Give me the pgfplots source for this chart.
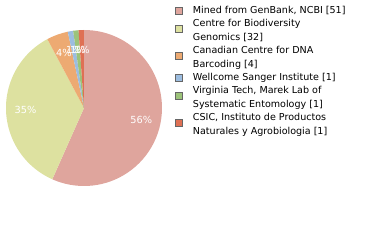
\documentclass[border=0pt]{standalone}
\usepackage{pgfplots}
\pgfplotsset{compat=1.18}
\usepackage{fontspec}
\setmainfont{DejaVu Sans}
\definecolor{cA}{RGB}{223,165,157}
\definecolor{cB}{RGB}{221,225,160}
\definecolor{cC}{RGB}{237,170,114}
\definecolor{cD}{RGB}{156,189,224}
\definecolor{cE}{RGB}{156,195,122}
\definecolor{cF}{RGB}{223,112,84}
% slice: start cumulative, end cumulative (out of total 90), colour
\newcommand{\slice}[3]{%
  \fill[#3] (axis cs:0,0) -- ++({90-(360/90)*#1}:78bp) arc[start angle={90-(360/90)*#1}, end angle={90-(360/90)*#2}, radius=78bp] -- cycle;}
\newcommand{\plabel}[3]{%
  \node[text=white, font=\fontsize{9.8}{11}\selectfont] at (axis cs:{0.75*cos(90-(360/180)*(#1+#2))},{0.75*sin(90-(360/180)*(#1+#2))}) {#3};}
\pgfplotsset{
  sq/.style={legend image code/.code={\draw[##1, draw=gray!80!black, line width=0.5bp, overlay] (0bp,-3.5bp) rectangle (7bp,3.5bp); \path[draw=none,fill=none] (0bp,0bp) (18bp,0bp);}},
  sqb/.style={legend image code/.code={\draw[##1, draw=gray!80!black, line width=0.5bp, overlay] (0bp,-8bp) rectangle (7bp,-1bp); \path[draw=none,fill=none] (0bp,0bp) (18bp,0bp);}},
}
\begin{document}
\begin{tikzpicture}
\path[use as bounding box] (0,0) rectangle (380bp,240bp);
\begin{axis}[
  at={(6bp,54bp)}, anchor=south west,
  scale only axis, width=156bp, height=156bp,
  xmin=-1, xmax=1, ymin=-1, ymax=1,
  hide axis,
  legend style={at={(1.083,1.157)}, anchor=north west, draw=none, fill=none,
    inner sep=0bp, outer sep=0bp,
    font=\fontsize{9.6}{12}\selectfont,
    nodes={inner sep=0bp, text height=8bp, text depth=3bp}, row sep=2.4bp},
  legend cell align=left,
]
\addlegendimage{fill=cA, sq}
\addlegendimage{fill=cB, sqb}
\addlegendimage{empty legend}
\addlegendimage{fill=cC, sqb}
\addlegendimage{empty legend}
\addlegendimage{fill=cD, sq}
\addlegendimage{fill=cE, sqb}
\addlegendimage{empty legend}
\addlegendimage{fill=cF, sqb}
\addlegendimage{empty legend}
\addplot[draw=none, forget plot] coordinates {(-1,-1) (1,1)};
\slice{0}{51}{cA}
\slice{51}{83}{cB}
\slice{83}{87}{cC}
\slice{87}{88}{cD}
\slice{88}{89}{cE}
\slice{89}{90}{cF}
\plabel{0}{51}{56\%}
\plabel{51}{83}{35\%}
\plabel{83}{87}{4\%}
\plabel{87}{88}{1\%}
\plabel{88}{89}{1\%}
\plabel{89}{90}{1\%}
\legend{
  {Mined from GenBank, NCBI [51]},
  {Centre for Biodiversity},
  {Genomics [32]},
  {Canadian Centre for DNA},
  {Barcoding [4]},
  {Wellcome Sanger Institute [1]},
  {Virginia Tech, Marek Lab of},
  {Systematic Entomology [1]},
  {CSIC, Instituto de Productos},
  {Naturales y Agrobiologia [1]}
}
\end{axis}
\end{tikzpicture}
\end{document}
